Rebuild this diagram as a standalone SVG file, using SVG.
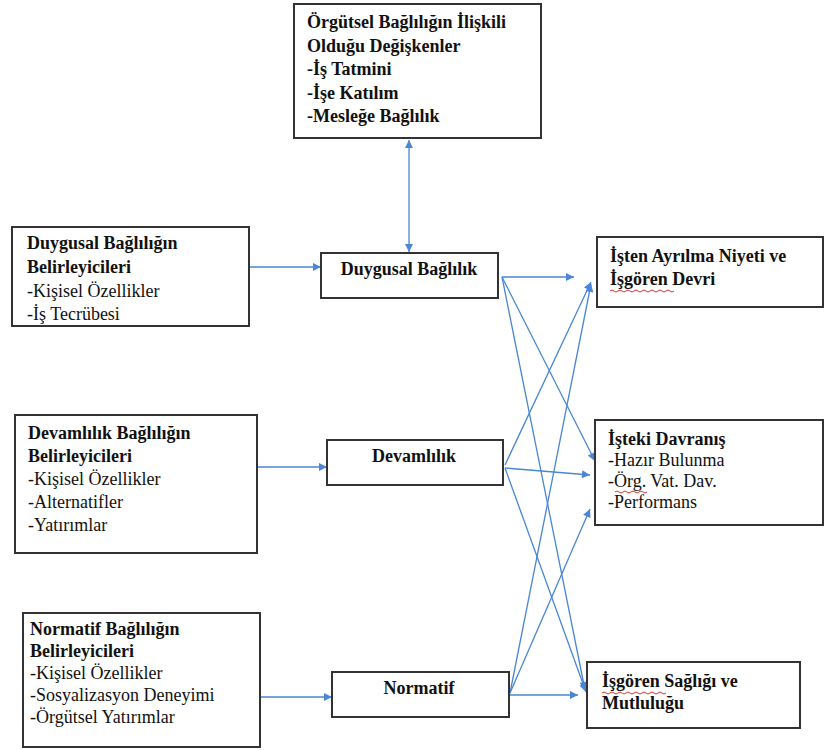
<svg xmlns="http://www.w3.org/2000/svg" width="824" height="750" viewBox="0 0 824 750">
<style>
.box{fill:#fff;stroke:#333;stroke-width:2}
text{font-family:'Liberation Serif','DejaVu Serif',serif;font-size:18px;fill:#111}
.b{font-weight:bold}
.c{stroke:#4a86d4;stroke-width:1.3;fill:none;marker-end:url(#ah)}
.sq{stroke:#d9382f;stroke-width:1;fill:none}
</style>
<defs>
<marker id="ah" viewBox="0 0 10 10" refX="10" refY="5" markerUnits="userSpaceOnUse" markerWidth="9" markerHeight="8" orient="auto-start-reverse">
<path d="M0,0 L10,5 L0,10 z" fill="#4a86d4"/>
</marker>
</defs>
<rect width="824" height="750" fill="#fff"/>
<g id="connectors">
<line class="c" x1="409" y1="140" x2="409" y2="252" style="marker-start:url(#ah)"/>
<line class="c" x1="250" y1="267" x2="321" y2="267"/>
<line class="c" x1="257" y1="467" x2="327" y2="467"/>
<line class="c" x1="260" y1="697" x2="332" y2="697"/>
<line class="c" x1="502" y1="277" x2="574" y2="277"/>
<line class="c" x1="502" y1="277" x2="595" y2="461"/>
<line class="c" x1="502" y1="277" x2="585" y2="690"/>
<line class="c" x1="505" y1="465" x2="591" y2="282"/>
<line class="c" x1="505" y1="468" x2="590" y2="475"/>
<line class="c" x1="505" y1="468" x2="586" y2="692"/>
<line class="c" x1="510" y1="693" x2="591" y2="284"/>
<line class="c" x1="510" y1="693" x2="590" y2="509"/>
<line class="c" x1="510" y1="695" x2="578" y2="695"/>
</g>
<g id="top">
<rect class="box" x="294" y="4" width="247" height="134"/>
<text class="b" x="307" y="28">Örgütsel Bağlılığın İlişkili</text>
<text class="b" x="307" y="52">Olduğu Değişkenler</text>
<text class="b" x="307" y="75">-İş Tatmini</text>
<text class="b" x="307" y="99">-İşe Katılım</text>
<text class="b" x="307" y="122">-Mesleğe Bağlılık</text>
</g>
<g id="left1">
<rect class="box" x="12" y="227" width="237" height="99"/>
<text class="b" x="27" y="249">Duygusal Bağlılığın</text>
<text class="b" x="27" y="273">Belirleyicileri</text>
<text x="27" y="297">-Kişisel Özellikler</text>
<text x="27" y="320">-İş Tecrübesi</text>
</g>
<g id="left2">
<rect class="box" x="15" y="415" width="242" height="138"/>
<text class="b" x="28" y="439">Devamlılık Bağlılığın</text>
<text class="b" x="28" y="462">Belirleyicileri</text>
<text x="28" y="485">-Kişisel Özellikler</text>
<text x="28" y="508">-Alternatifler</text>
<text x="28" y="531">-Yatırımlar</text>
</g>
<g id="left3">
<rect class="box" x="23" y="613" width="237" height="134"/>
<text class="b" x="30" y="635">Normatif Bağlılığın</text>
<text class="b" x="30" y="657">Belirleyicileri</text>
<text x="30" y="679">-Kişisel Özellikler</text>
<text x="30" y="701">-Sosyalizasyon Deneyimi</text>
<text x="30" y="723">-Örgütsel Yatırımlar</text>
</g>
<g id="duygusal">
<rect class="box" x="321" y="253" width="177" height="45"/>
<text class="b" x="409" y="275" text-anchor="middle">Duygusal Bağlılık</text>
</g>
<g id="devamlilik">
<rect class="box" x="327" y="440" width="176" height="45"/>
<text class="b" x="414" y="462" text-anchor="middle">Devamlılık</text>
</g>
<g id="normatif">
<rect class="box" x="332" y="672" width="177" height="45"/>
<text class="b" x="419" y="694" text-anchor="middle">Normatif</text>
</g>
<g id="right1">
<rect class="box" x="597" y="237" width="226" height="70"/>
<text class="b" x="610" y="262">İşten Ayrılma Niyeti ve</text>
<text class="b" x="610" y="285">İşgören Devri</text>
<path class="sq" d="M610,291 q2,-2 4,0 t4,0 t4,0 t4,0 t4,0 t4,0 t4,0 t4,0 t4,0 t4,0 t4,0 t4,0 t4,0 t4,0 t4,0 t4,0"/>
</g>
<g id="right2">
<rect class="box" x="595" y="420" width="228" height="105"/>
<text class="b" x="608" y="445">İşteki Davranış</text>
<text x="608" y="466">-Hazır Bulunma</text>
<text x="608" y="487">-Örg. Vat. Dav.</text>
<text x="608" y="508">-Performans</text>
<path class="sq" d="M615,492 q2,-2 4,0 t4,0 t4,0 t4,0 t4,0 t4,0 t4,0 t4,0"/>
</g>
<g id="right3">
<rect class="box" x="587" y="662" width="213" height="66"/>
<text class="b" x="602" y="687">İşgören Sağlığı ve</text>
<text class="b" x="602" y="709">Mutluluğu</text>
<path class="sq" d="M602,693 q2,-2 4,0 t4,0 t4,0 t4,0 t4,0 t4,0 t4,0 t4,0 t4,0 t4,0 t4,0 t4,0 t4,0 t4,0 t4,0 t4,0"/>
</g>
</svg>
